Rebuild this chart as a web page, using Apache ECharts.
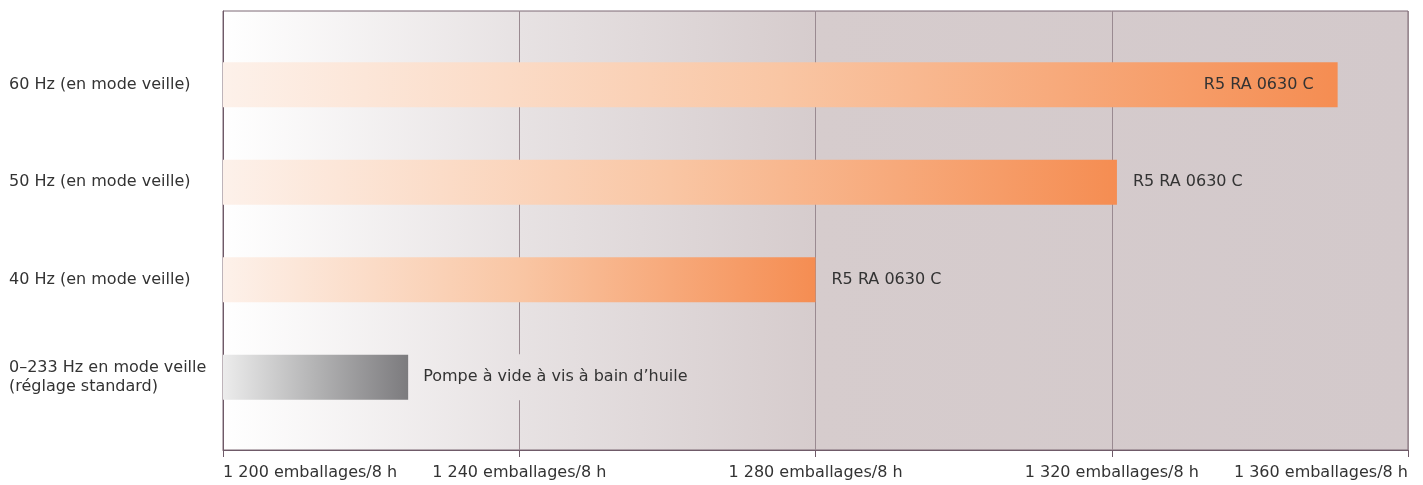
<!DOCTYPE html>
<html>
<head>
<meta charset="utf-8">
<script src="https://cdn.jsdelivr.net/npm/echarts@6/dist/echarts.min.js"></script>
<style>
html,body{margin:0;padding:0;background:#ffffff;}
#chart{width:1423px;height:485px;}
</style>
</head>
<body>
<div id="chart"></div>
<script>
// Data
const categories = [
  '60 Hz (en mode veille)',
  '50 Hz (en mode veille)',
  '40 Hz (en mode veille)',
  '0–233 Hz en mode veille\n(réglage standard)'
];
const values = [1350.5, 1320.7, 1280, 1225];
const barLabels = ['R5 RA 0630 C', 'R5 RA 0630 C', 'R5 RA 0630 C', 'Pompe à vide à vis à bain d’huile'];
const xMin = 1200, xMax = 1360, xStep = 40;
const tickUnit = ' emballages/8 h';

const FONT = 'DejaVu Sans';
const TXT = '#333333';
const GRID_LEFT = 223, GRID_RIGHT = 15, CHART_W = 1423;
const GREY_LABEL_DIST = 11;

function fmtNum(v) {
  const s = String(v);
  return s.length > 3 ? s.slice(0, s.length - 3) + ' ' + s.slice(-3) : s;
}

const bgStops = [
  { offset: 0, color: '#ffffff' },
  { offset: 0.25, color: '#e7e2e3' },
  { offset: 0.5, color: '#d6cccd' },
  { offset: 1, color: '#d3c9cb' }
];

const orange = {
  type: 'linear', x: 0, y: 0, x2: 1, y2: 0,
  colorStops: [
    { offset: 0, color: '#fdf1ea' },
    { offset: 0.5, color: '#f9c6a4' },
    { offset: 1, color: '#f58d52' }
  ]
};
const grey = {
  type: 'linear', x: 0, y: 0, x2: 1, y2: 0,
  colorStops: [
    { offset: 0, color: '#ececec' },
    { offset: 0.5, color: '#b3b3b4' },
    { offset: 1, color: '#7c7b7e' }
  ]
};

function buildData(greyLabelOrigin) {
  return values.map((v, i) => {
    const isGrey = i === values.length - 1;
    let label;
    if (i === 0) {
      label = { show: true, position: 'insideRight', distance: 24, formatter: barLabels[i], padding: [4, 0, 0, 0] };
    } else if (isGrey) {
      label = {
        show: true, position: 'right', distance: GREY_LABEL_DIST, formatter: barLabels[i],
        padding: [15, 4, 11, 4], lineHeight: 20
      };
      if (greyLabelOrigin != null) {
        label.backgroundColor = {
          type: 'linear', global: true,
          x: GRID_LEFT - greyLabelOrigin, y: 0,
          x2: (CHART_W - GRID_RIGHT) - greyLabelOrigin, y2: 0,
          colorStops: bgStops
        };
      }
    } else {
      label = { show: true, position: 'right', distance: 16, formatter: barLabels[i], padding: [4, 0, 0, 0] };
    }
    return { value: v, itemStyle: { color: isGrey ? grey : orange }, label: label };
  });
}

const catData = categories.map((c) => ({
  value: c,
  textStyle: {
    align: 'left', color: TXT, fontSize: 16, fontFamily: FONT, lineHeight: 19,
    padding: c.indexOf('\n') >= 0 ? [0, 0, 1, 0] : [6, 0, 0, 0]
  }
}));

const chart = echarts.init(document.getElementById('chart'), null, { renderer: 'canvas' });
chart.setOption({
  animation: false,
  textStyle: { fontFamily: FONT },
  grid: [
    {
      left: GRID_LEFT, right: GRID_RIGHT, top: 11, bottom: 35,
      outerBoundsMode: 'none', containLabel: false,
      show: true, borderColor: '#7d6874', borderWidth: 1,
      backgroundColor: {
        type: 'linear', x: 0, y: 0, x2: 1, y2: 0,
        colorStops: bgStops
      }
    },
    {
      left: GRID_LEFT, right: GRID_RIGHT, top: 36, bottom: 59,
      outerBoundsMode: 'none', containLabel: false
    }
  ],
  xAxis: [
    {
      gridIndex: 0, type: 'value', min: xMin, max: xMax, interval: xStep,
      axisLine: { show: true, lineStyle: { color: '#6f5a68', width: 1 } },
      axisTick: { show: true, length: 7, lineStyle: { color: '#6f5a68' } },
      splitLine: { show: true, lineStyle: { color: '#9a8a91', width: 1 } },
      axisLabel: {
        show: true, margin: 15, color: TXT, fontSize: 16, fontFamily: FONT,
        alignMinLabel: 'left', alignMaxLabel: 'right',
        formatter: v => fmtNum(v) + tickUnit
      }
    },
    {
      gridIndex: 1, type: 'value', min: xMin, max: xMax, interval: xStep, show: false
    }
  ],
  yAxis: [
    {
      gridIndex: 0, type: 'value', min: 0, max: 1,
      axisLine: { show: true, lineStyle: { color: '#6f5a68', width: 1 } },
      axisTick: { show: false }, axisLabel: { show: false }, splitLine: { show: false }
    },
    {
      gridIndex: 1, type: 'category', data: catData, inverse: true,
      axisLine: { show: false }, axisTick: { show: false }, splitLine: { show: false },
      axisLabel: {
        show: true, align: 'left', margin: 214, color: TXT, fontSize: 16,
        fontFamily: FONT, lineHeight: 19
      }
    }
  ],
  series: [
    {
      type: 'bar', xAxisIndex: 1, yAxisIndex: 1,
      startValue: xMin,
      barWidth: 45,
      data: buildData(null),
      label: { color: TXT, fontSize: 16, fontFamily: FONT },
      z: 3
    }
  ]
});

// Position the grey label's background gradient so it lines up with the plot background
const greyEnd = chart.convertToPixel({ xAxisIndex: 1 }, values[values.length - 1]);
chart.setOption({ series: [{ data: buildData(greyEnd + GREY_LABEL_DIST) }] });
</script>
</body>
</html>
